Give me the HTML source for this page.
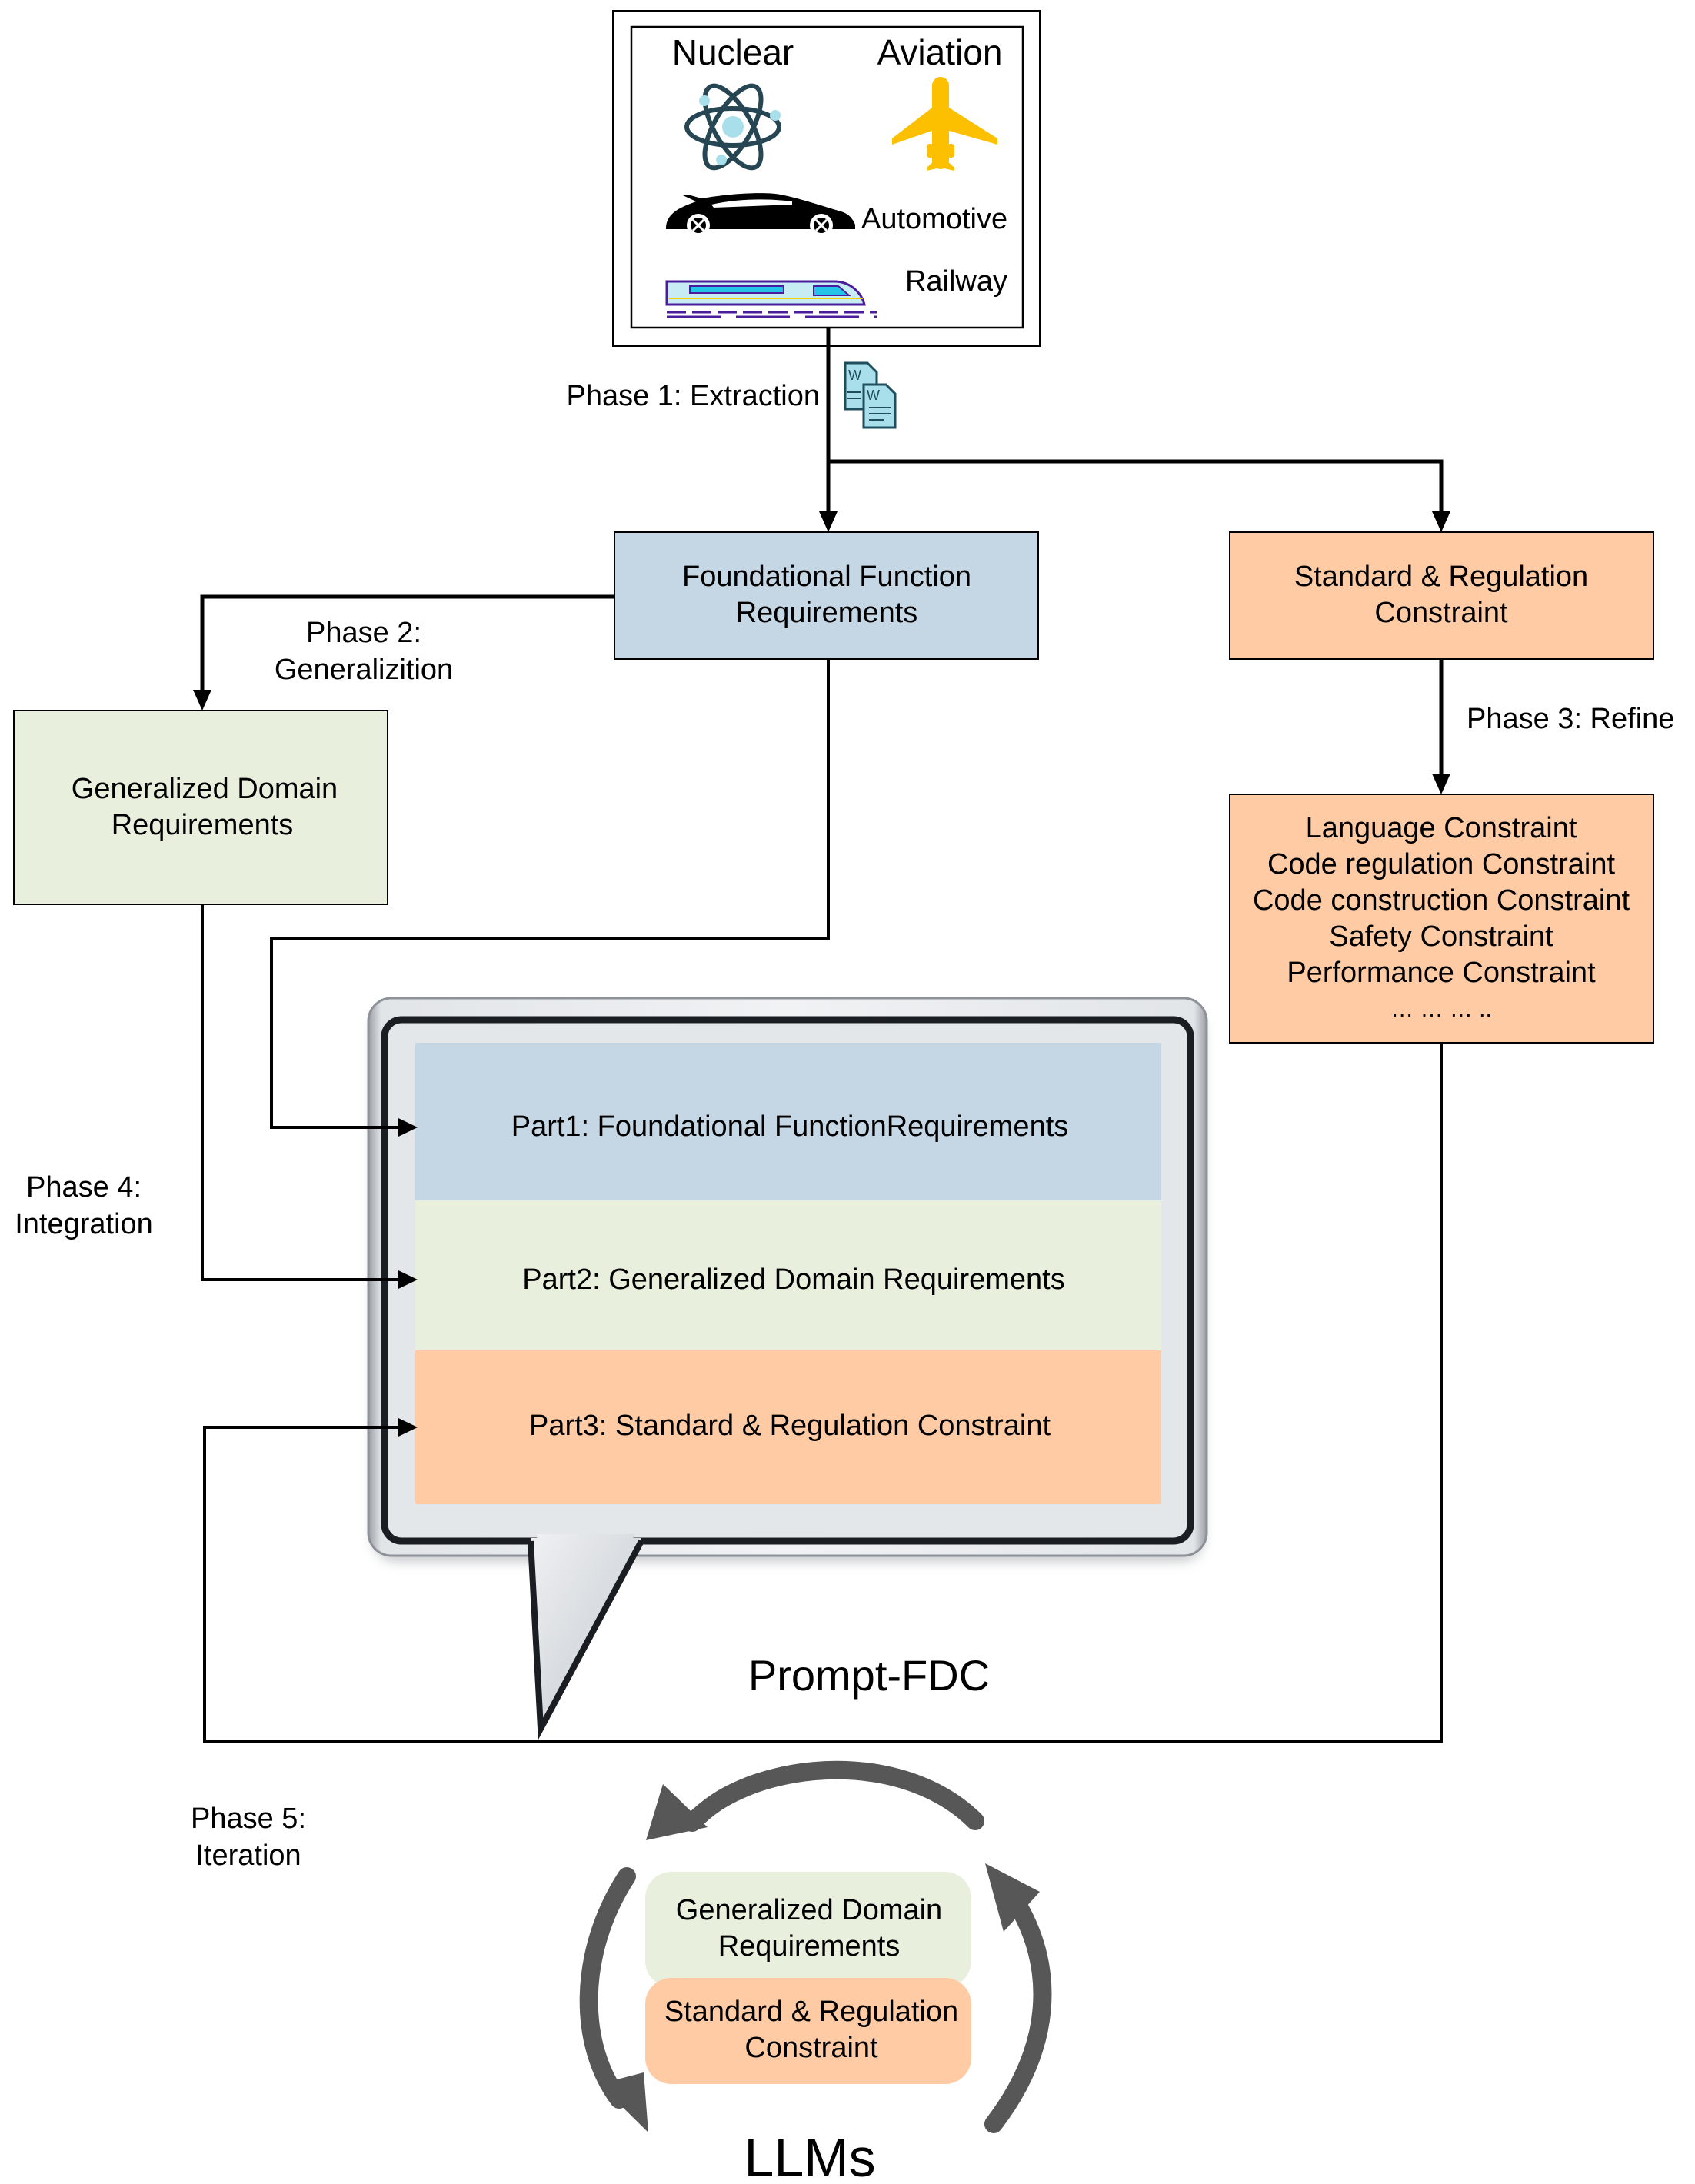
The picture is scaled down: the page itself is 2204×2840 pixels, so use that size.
<!DOCTYPE html>
<html><head><meta charset="utf-8"><style>
html,body{margin:0;padding:0;background:#fff}
svg{display:block}
text{font-family:"Liberation Sans",Arial,sans-serif;fill:#000}
</style></head><body>
<svg width="2204" height="2840" viewBox="0 0 2204 2840" xmlns="http://www.w3.org/2000/svg">
<defs>
<linearGradient id="frame" x1="0" y1="0" x2="1" y2="0">
<stop offset="0" stop-color="#9a9ea3"/><stop offset="0.015" stop-color="#e2e5e8"/><stop offset="0.5" stop-color="#f0f2f4"/><stop offset="0.985" stop-color="#e2e5e8"/><stop offset="1" stop-color="#9a9ea3"/>
</linearGradient>
<linearGradient id="tail" x1="0" y1="0" x2="1" y2="1">
<stop offset="0" stop-color="#eef0f2"/><stop offset="1" stop-color="#c5cad0"/>
</linearGradient>
<filter id="sh" x="-5%" y="-5%" width="110%" height="115%"><feGaussianBlur stdDeviation="8"/></filter>
</defs>

<rect x="797" y="14" width="555" height="436" fill="#fff" stroke="#000" stroke-width="2"/>
<rect x="821" y="35" width="509" height="391" fill="#fff" stroke="#000" stroke-width="2.5"/>
<text x="953" y="84" font-size="46" text-anchor="middle">Nuclear</text>
<text x="1222" y="84" font-size="46" text-anchor="middle">Aviation</text>
<g transform="translate(953,165)" fill="none" stroke="#264653" stroke-width="6">
<ellipse rx="60" ry="24"/>
<ellipse rx="60" ry="24" transform="rotate(60)"/>
<ellipse rx="60" ry="24" transform="rotate(-60)"/>
</g>
<circle cx="953" cy="165" r="14" fill="#a8dfea"/>
<circle cx="916" cy="131" r="7" fill="#a8dfea"/>
<circle cx="1008" cy="150" r="7" fill="#a8dfea"/>
<circle cx="938" cy="208" r="7" fill="#a8dfea"/>
<g fill="#fcc000">
<rect x="1212" y="100" width="22" height="120" rx="11"/>
<polygon points="1212,140 1160,180 1160,188 1212,170"/>
<polygon points="1234,140 1297,180 1297,188 1234,170"/>
<rect x="1205" y="187" width="9" height="18" rx="4"/>
<rect x="1232" y="187" width="9" height="18" rx="4"/>
<polygon points="1216,208 1205,218 1205,222 1223,218 1241,222 1241,218 1230,208"/>
</g>
<path d="M866,297 C866,275 890,268 905,262 L888,254 L898,254 L912,258 C960,250 1000,250 1015,253 C1040,258 1070,268 1090,274 C1103,277 1108,283 1112,292 L1112,298 L866,298 Z" fill="#000"/>
<path d="M925,266 C960,258 1000,258 1030,262 L1030,266 L928,270 Z" fill="#fff"/>
<circle cx="908" cy="293" r="15" fill="#fff"/><circle cx="908" cy="293" r="10" fill="#000"/>
<circle cx="1068" cy="293" r="15" fill="#fff"/><circle cx="1068" cy="293" r="10" fill="#000"/>
<path d="M901,286 L915,300 M915,286 L901,300 M1061,286 L1075,300 M1075,286 L1061,300" stroke="#fff" stroke-width="3"/>
<text x="1120" y="297" font-size="38">Automotive</text>
<path d="M867,366 L1085,366 C1105,366 1120,380 1124,396 L867,396 Z" fill="#c8ecf4" stroke="#4b1d9c" stroke-width="3"/>
<rect x="897" y="372" width="122" height="9" fill="#22c3e6" stroke="#4b1d9c" stroke-width="2"/>
<path d="M1058,372 L1090,372 L1104,384 L1058,384 Z" fill="#22c3e6" stroke="#4b1d9c" stroke-width="2"/>
<line x1="870" y1="388" x2="1122" y2="388" stroke="#f5d000" stroke-width="2"/>
<line x1="867" y1="406" x2="1140" y2="406" stroke="#4b1d9c" stroke-width="3" stroke-dasharray="25,8"/>
<line x1="867" y1="412" x2="1140" y2="412" stroke="#4b1d9c" stroke-width="3" stroke-dasharray="70,20"/>
<text x="1310" y="378" font-size="38" text-anchor="end">Railway</text>

<line x1="1077" y1="426" x2="1077" y2="672" stroke="#000" stroke-width="5"/>
<polyline points="1077,600 1874,600 1874,672" fill="none" stroke="#000" stroke-width="5"/>
<polygon points="1065,665 1089,665 1077,692" fill="#000"/>
<polygon points="1862,665 1886,665 1874,692" fill="#000"/>
<text x="1066" y="527" font-size="38" text-anchor="end">Phase 1: Extraction</text>
<g stroke="#1f4e5f" stroke-width="3" fill="#a8dfea">
<path d="M1099,472 L1128,472 L1140,484 L1140,532 L1099,532 Z"/>
<path d="M1123,500 L1152,500 L1164,512 L1164,556 L1123,556 Z"/>
</g>
<text x="1103" y="494" font-size="18" style="fill:#1f4e5f">W</text>
<text x="1127" y="520" font-size="18" style="fill:#1f4e5f">W</text>
<path d="M1130,530 H1158 M1130,538 H1158 M1130,546 H1150 M1102,510 H1120 M1102,518 H1120" stroke="#1f4e5f" stroke-width="2"/>

<rect x="799" y="692" width="551" height="165" fill="#c5d7e5" stroke="#000" stroke-width="2"/>
<text x="1075" y="762" font-size="38" text-anchor="middle">Foundational Function</text>
<text x="1075" y="809" font-size="38" text-anchor="middle">Requirements</text>
<rect x="1599" y="692" width="551" height="165" fill="#fecba4" stroke="#000" stroke-width="2"/>
<text x="1874" y="762" font-size="38" text-anchor="middle">Standard &amp; Regulation</text>
<text x="1874" y="809" font-size="38" text-anchor="middle">Constraint</text>

<polyline points="799,776 263,776 263,904" fill="none" stroke="#000" stroke-width="5"/>
<polygon points="251,897 275,897 263,924" fill="#000"/>
<text x="473" y="835" font-size="38" text-anchor="middle">Phase 2:</text>
<text x="473" y="883" font-size="38" text-anchor="middle">Generalizition</text>
<rect x="18" y="924" width="486" height="252" fill="#e9efdd" stroke="#000" stroke-width="2"/>
<text x="266" y="1038" font-size="38" text-anchor="middle">Generalized Domain</text>
<text x="263" y="1085" font-size="38" text-anchor="middle">Requirements</text>

<line x1="1874" y1="857" x2="1874" y2="1013" stroke="#000" stroke-width="5"/>
<polygon points="1862,1006 1886,1006 1874,1033" fill="#000"/>
<text x="1907" y="947" font-size="38">Phase 3: Refine</text>
<rect x="1599" y="1033" width="551" height="323" fill="#fecba4" stroke="#000" stroke-width="2"/>
<g font-size="38" text-anchor="middle">
<text x="1874" y="1089">Language Constraint</text>
<text x="1874" y="1136">Code regulation Constraint</text>
<text x="1874" y="1183">Code construction  Constraint</text>
<text x="1874" y="1230">Safety  Constraint</text>
<text x="1874" y="1277">Performance  Constraint</text>
<text x="1874" y="1322" font-size="30">… … … ..</text>
</g>

<!-- bubble -->
<rect x="485" y="1310" width="1080" height="720" rx="30" fill="#8a9096" opacity="0.5" filter="url(#sh)"/>
<rect x="479" y="1298" width="1090" height="725" rx="30" fill="url(#frame)" stroke="#8d9298" stroke-width="3"/>
<rect x="500" y="1326" width="1048" height="678" rx="22" fill="none" stroke="#1a1e22" stroke-width="9"/>
<rect x="505" y="1331" width="1038" height="668" rx="18" fill="#e4e7ea"/>
<polygon points="690,2000 703,2248 834,2000" fill="url(#tail)"/>
<path d="M690,2004 L703,2248 L834,2004" fill="none" stroke="#1a1e22" stroke-width="8"/>
<polygon points="698,1995 711,2215 826,1995" fill="url(#tail)"/>
<rect x="540" y="1356" width="970" height="205" fill="#c5d7e5"/>
<rect x="540" y="1561" width="970" height="195" fill="#e9efdd"/>
<rect x="540" y="1756" width="970" height="200" fill="#fecba4"/>
<text x="1027" y="1477" font-size="38" text-anchor="middle">Part1: Foundational FunctionRequirements</text>
<text x="1032" y="1676" font-size="38" text-anchor="middle">Part2: Generalized Domain Requirements</text>
<text x="1027" y="1866" font-size="38" text-anchor="middle">Part3: Standard &amp; Regulation Constraint</text>
<text x="1130" y="2198" font-size="56" text-anchor="middle">Prompt-FDC</text>

<polyline points="1077,857 1077,1220 353,1220 353,1466 522,1466" fill="none" stroke="#000" stroke-width="4"/>
<polygon points="518,1454 518,1478 543,1466" fill="#000"/>
<polyline points="263,1176 263,1664 522,1664" fill="none" stroke="#000" stroke-width="4"/>
<polygon points="518,1652 518,1676 543,1664" fill="#000"/>
<polyline points="1874,1356 1874,2264 266,2264 266,1856 522,1856" fill="none" stroke="#000" stroke-width="4"/>
<polygon points="518,1844 518,1868 543,1856" fill="#000"/>
<text x="109" y="1556" font-size="38" text-anchor="middle">Phase 4:</text>
<text x="109" y="1604" font-size="38" text-anchor="middle">Integration</text>

<text x="323" y="2377" font-size="38" text-anchor="middle">Phase 5:</text>
<text x="323" y="2425" font-size="38" text-anchor="middle">Iteration</text>
<g fill="none" stroke="#575757" stroke-width="24" stroke-linecap="round">
<path d="M1268,2368 C1200,2300 1080,2285 980,2320 C940,2335 920,2350 900,2370"/>
<path d="M1292,2762 C1370,2660 1370,2560 1325,2480"/>
<path d="M815,2440 C750,2540 752,2660 805,2730"/>
</g>
<polygon points="840,2393 862,2320 920,2376" fill="#575757"/>
<polygon points="1281,2423 1352,2460 1305,2512" fill="#575757"/>
<polygon points="843,2773 779,2710 837,2695" fill="#575757"/>
<rect x="839" y="2434" width="424" height="150" rx="34" fill="#e9efdd"/>
<rect x="839" y="2572" width="424" height="138" rx="34" fill="#fecba4"/>
<text x="1052" y="2496" font-size="38" text-anchor="middle">Generalized Domain</text>
<text x="1052" y="2543" font-size="38" text-anchor="middle">Requirements</text>
<text x="1055" y="2628" font-size="38" text-anchor="middle">Standard &amp; Regulation</text>
<text x="1055" y="2675" font-size="38" text-anchor="middle">Constraint</text>
<text x="1053" y="2830" font-size="70" text-anchor="middle">LLMs</text>
</svg>
</body></html>
